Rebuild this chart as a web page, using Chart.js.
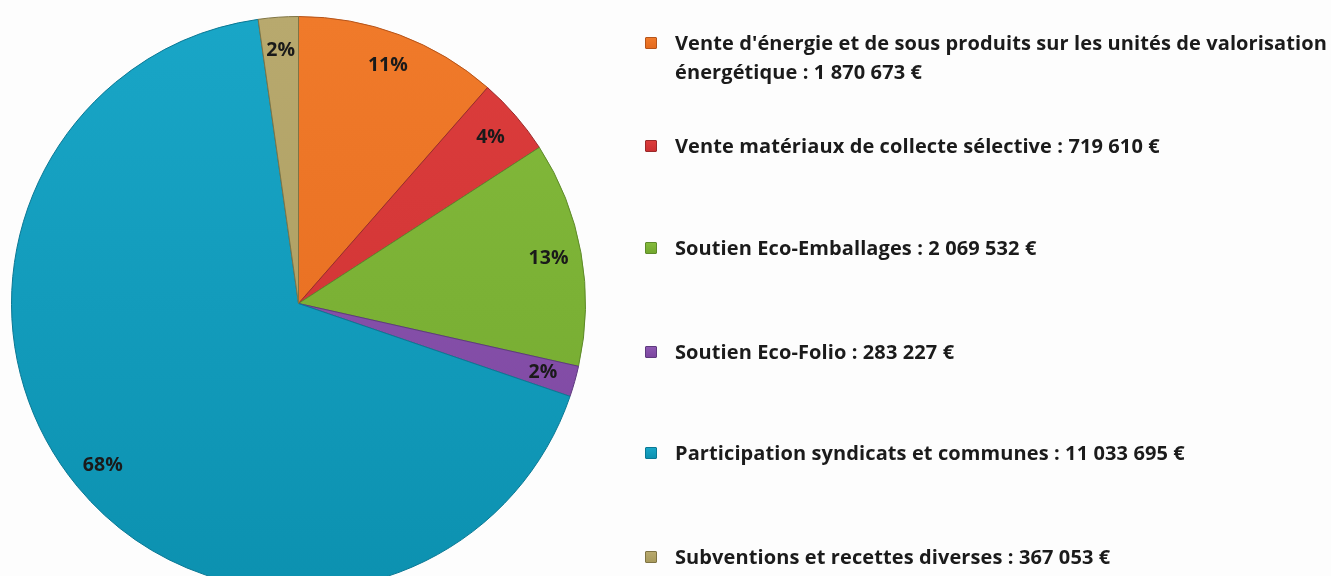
<!DOCTYPE html>
<html>
<head>
<meta charset="utf-8">
<script src="https://cdn.jsdelivr.net/npm/chart.js@4.4.1/dist/chart.umd.min.js"></script>
<style>
  html, body { margin: 0; padding: 0; background: #fdfdfd; overflow: hidden; }
  body { width: 1331px; height: 576px; position: relative; }
  #pieWrap { position: absolute; left: 11px; top: 16px; width: 575px; height: 575px; }
  #legend { position: absolute; left: 0; top: 0; width: 1331px; height: 576px; font-family: "Open Sans", Lato, sans-serif; font-weight: 700; color: #1b1b1b; }
  .item { position: absolute; left: 645px; width: 690px; }
  .box { position: absolute; left: 0; width: 12px; height: 12px; border-radius: 1px; }
  .txt { position: absolute; left: 30px; font-size: 20px; line-height: 29px; white-space: nowrap; letter-spacing: 0.1px; }
</style>
</head>
<body>
<div id="pieWrap"><canvas id="c"></canvas></div>
<div id="legend"></div>
<script>
const categories = [
  "Vente d'énergie et de sous produits sur les unités de valorisation|énergétique",
  "Vente matériaux de collecte sélective",
  "Soutien Eco-Emballages",
  "Soutien Eco-Folio",
  "Participation syndicats et communes",
  "Subventions et recettes diverses"
];
const amounts = [1870673, 719610, 2069532, 283227, 11033695, 367053];
const amountLabels = ["1 870 673 €", "719 610 €", "2 069 532 €", "283 227 €", "11 033 695 €", "367 053 €"];
const colorsTop = ["#f07a2a", "#dc3d3c", "#84bb3c", "#8d58b2", "#19a6c7", "#b8a96e"];
const colorsBottom = ["#e46a1e", "#cc3032", "#72a72e", "#7c469f", "#0c91b0", "#a89a5c"];
const borderColors = ["#b5541a", "#9a2a2a", "#5e8a2a", "#5e3a7e", "#0a7894", "#7f7444"];

const total = amounts.reduce((a, b) => a + b, 0);

function sliceFill(ctx) {
  const i = ctx.dataIndex;
  const chart = ctx.chart;
  const area = chart.chartArea;
  if (!area || i === undefined) return colorsTop[i || 0];
  const g = chart.ctx.createLinearGradient(0, area.top, 0, area.bottom);
  g.addColorStop(0, colorsTop[i]);
  g.addColorStop(1, colorsBottom[i]);
  return g;
}

const pctLabels = {
  id: 'pctLabels',
  afterDatasetsDraw(chart) {
    const ctx = chart.ctx;
    const meta = chart.getDatasetMeta(0);
    ctx.save();
    ctx.font = "700 19.5px 'Open Sans', Lato, sans-serif";
    ctx.fillStyle = "#1a1a1a";
    ctx.textAlign = "center";
    ctx.textBaseline = "middle";
    meta.data.forEach((arc, i) => {
      const p = arc.getProps(['x', 'y', 'startAngle', 'endAngle', 'outerRadius'], true);
      const mid = (p.startAngle + p.endAngle) / 2;
      const r = p.outerRadius * 0.885;
      const v = chart.data.datasets[0].data[i];
      ctx.fillText(Math.round(v / total * 100) + "%", p.x + Math.cos(mid) * r, p.y + Math.sin(mid) * r);
    });
    ctx.restore();
  }
};

new Chart(document.getElementById('c'), {
  type: 'pie',
  data: {
    labels: categories.map(c => c.replace('|', ' ')),
    datasets: [{
      data: amounts,
      backgroundColor: sliceFill,
      borderColor: borderColors,
      borderWidth: 1
    }]
  },
  options: {
    responsive: true,
    maintainAspectRatio: false,
    animation: false,
    layout: { padding: 0 },
    plugins: { legend: { display: false }, tooltip: { enabled: false } }
  },
  plugins: [pctLabels]
});

// HTML legend built from the data arrays
const legend = document.getElementById('legend');
const centers = [43, 146, 248, 352, 453, 557];
categories.forEach((cat, i) => {
  const parts = cat.split('|');
  const item = document.createElement('div');
  item.className = 'item';
  item.style.top = centers[i] + 'px';
  const box = document.createElement('div');
  box.className = 'box';
  box.style.top = '-6px';
  box.style.background = 'linear-gradient(' + colorsTop[i] + ',' + colorsBottom[i] + ')';
  box.style.border = '1px solid ' + borderColors[i];
  box.style.boxSizing = 'border-box';
  item.appendChild(box);
  const t = document.createElement('div');
  t.className = 'txt';
  t.style.top = '-15px';
  if (parts.length > 1) {
    t.innerHTML = parts[0] + '<br>' + parts[1] + ' : ' + amountLabels[i];
  } else {
    t.textContent = parts[0] + ' : ' + amountLabels[i];
  }
  item.appendChild(t);
  legend.appendChild(item);
});
</script>
</body>
</html>
